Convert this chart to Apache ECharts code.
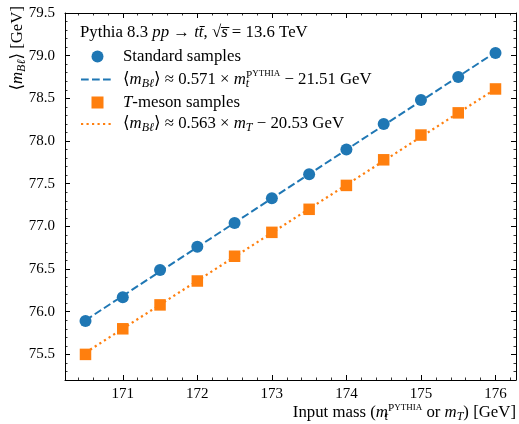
<!DOCTYPE html>
<html>
<head>
<meta charset="utf-8">
<script src="https://cdn.jsdelivr.net/npm/echarts@6/dist/echarts.min.js"></script>
<style>
  html, body { margin: 0; padding: 0; background: #fff; }
  #chart { width: 519px; height: 424px; }
</style>
</head>
<body>
<div id="chart"></div>
<script>
// Mean m_Bl versus input top mass, two sample types
const inputMass    = [170.5, 171, 171.5, 172, 172.5, 173, 173.5, 174, 174.5, 175, 175.5, 176];
const standardMean = [75.89, 76.17, 76.49, 76.76, 77.04, 77.33, 77.61, 77.90, 78.20, 78.48, 78.75, 79.03];
const tMesonMean   = [75.50, 75.80, 76.08, 76.36, 76.65, 76.93, 77.20, 77.48, 77.78, 78.07, 78.33, 78.61];

// Linear fit lines, evaluated at the ends of the mass range
const fitMass     = [170.5, 176];
const standardFit = [75.90, 79.04];
const tMesonFit   = [75.52, 78.61];

// Axis ranges
const xRange = [170.225, 176.275];
const yRange = [75.2, 79.5];

const BLUE = '#1f77b4';
const ORANGE = '#ff7f0e';
const FONT = "'Liberation Serif', 'DejaVu Serif', serif";
const FS_TICK = 15;
const FS = 16.8;

function tok(extra) {
  return Object.assign({ fontFamily: FONT, fontSize: FS, lineHeight: 20, color: '#000', fill: '#000' }, extra);
}
const rich = {
  n: tok({}),
  i: tok({ fontStyle: 'italic' }),
  sub: tok({ fontStyle: 'italic', fontSize: 12, lineHeight: 12, verticalAlign: 'bottom' }),
  subw: tok({ fontStyle: 'italic', fontSize: 12, lineHeight: 12, verticalAlign: 'bottom', width: 0.1 }),
  sp: tok({ fontSize: 11.2, lineHeight: 13, verticalAlign: 'top' }),
  sc: tok({ fontSize: 9, lineHeight: 13, verticalAlign: 'top' })
};

const mBl = '{n|⟨}{i|m}{sub|Bℓ}{n|⟩}';
const legendText = {
  std: '{n|Standard samples}',
  stdFit: mBl + '{n| ≈ 0.571 × }{i|m}{subw|t}{sp|P}{sc|YTHIA}{n| − 21.51 GeV}',
  tm: '{i|T}{n|-meson samples}',
  tmFit: mBl + '{n| ≈ 0.563 × }{i|m}{sub|T}{n| − 20.53 GeV}'
};

// Legend square drawn centred inside the 33x12 icon box
const squareIcon = 'path://M0,0L0.01,0L0,0.01Z M10.5,0L22.5,0L22.5,12L10.5,12Z M33,12L32.99,12L33,11.99Z';

const pairs = (xs, ys) => xs.map((x, k) => [x, ys[k]]);

const baseAxis = {
  type: 'value',
  axisLine: { show: true, onZero: false, lineStyle: { color: '#000', width: 1 } },
  axisTick: { show: true, inside: true, length: 5, lineStyle: { color: '#000', width: 1 } },
  minorTick: { show: true, splitNumber: 5, length: 2.5, lineStyle: { color: '#000', width: 0.8 } },
  splitLine: { show: false },
  minorSplitLine: { show: false }
};

const chart = echarts.init(document.getElementById('chart'), null, { renderer: 'canvas' });
chart.setOption({
  animation: false,
  backgroundColor: '#fff',
  grid: { left: 65, right: 3, top: 13, bottom: 44 },
  xAxis: [
    Object.assign({}, baseAxis, {
      position: 'bottom', min: xRange[0], max: xRange[1], splitNumber: 5,
      axisLabel: { show: true, margin: 7, fontFamily: FONT, fontSize: FS_TICK, color: '#000',
                   showMinLabel: false, showMaxLabel: false }
    }),
    Object.assign({}, baseAxis, {
      position: 'top', min: xRange[0], max: xRange[1], splitNumber: 5,
      axisLabel: { show: false }
    })
  ],
  yAxis: [
    Object.assign({}, baseAxis, {
      position: 'left', min: yRange[0], max: yRange[1], splitNumber: 8,
      axisLabel: { show: true, margin: 10, fontFamily: FONT, fontSize: FS_TICK, color: '#000',
                   showMinLabel: false, formatter: v => v.toFixed(1) }
    }),
    Object.assign({}, baseAxis, {
      position: 'right', min: yRange[0], max: yRange[1], splitNumber: 8,
      axisLabel: { show: false }
    })
  ],
  legend: {
    orient: 'vertical', left: 80, top: 48, padding: 0,
    itemWidth: 33, itemHeight: 12, itemGap: 4.5,
    selectedMode: false,
    data: [
      { name: 'std' },
      { name: 'stdFit', itemStyle: { opacity: 0 } },
      { name: 'tm', icon: squareIcon },
      { name: 'tmFit', itemStyle: { opacity: 0 } }
    ],
    formatter: name => legendText[name],
    textStyle: { fontFamily: FONT, fontSize: FS, color: '#000', padding: [0, 0, 0, 4], rich: rich }
  },
  series: [
    {
      name: 'stdFit', type: 'line', xAxisIndex: 0, yAxisIndex: 0,
      data: pairs(fitMass, standardFit), symbol: 'none', z: 2,
      lineStyle: { color: BLUE, width: 2, type: [7.7, 3.3] }, itemStyle: { color: BLUE }
    },
    {
      name: 'tmFit', type: 'line', xAxisIndex: 0, yAxisIndex: 0,
      data: pairs(fitMass, tMesonFit), symbol: 'none', z: 2,
      lineStyle: { color: ORANGE, width: 2.2, type: [2.2, 3.3] }, itemStyle: { color: ORANGE }
    },
    {
      name: 'std', type: 'scatter', xAxisIndex: 0, yAxisIndex: 0,
      data: pairs(inputMass, standardMean), symbol: 'circle', symbolSize: 12, z: 3,
      itemStyle: { color: BLUE, opacity: 1 }
    },
    {
      name: 'tm', type: 'scatter', xAxisIndex: 0, yAxisIndex: 0,
      data: pairs(inputMass, tMesonMean), symbol: 'rect', symbolSize: 11.5, z: 3,
      itemStyle: { color: ORANGE, opacity: 1 }
    }
  ],
  graphic: [
    {
      type: 'text', x: 80, y: 33,
      style: {
        text: '{n|Pythia 8.3 }{i|pp}{n| → }{i|tt̄}{n|, √}{i|s̅}{n| = 13.6 TeV}',
        rich: rich, align: 'left', verticalAlign: 'middle'
      }
    },
    {
      type: 'text', x: 516, y: 413,
      style: {
        text: '{n|Input mass (}{i|m}{subw|t}{sp|P}{sc|YTHIA}{n| or }{i|m}{sub|T}{n|) [GeV]}',
        rich: rich, align: 'right', verticalAlign: 'middle'
      }
    },
    {
      type: 'text', x: 18, y: 6, rotation: Math.PI / 2,
      style: {
        text: mBl + '{n| [GeV]}',
        rich: rich, align: 'right', verticalAlign: 'middle'
      }
    }
  ]
});
</script>
</body>
</html>
